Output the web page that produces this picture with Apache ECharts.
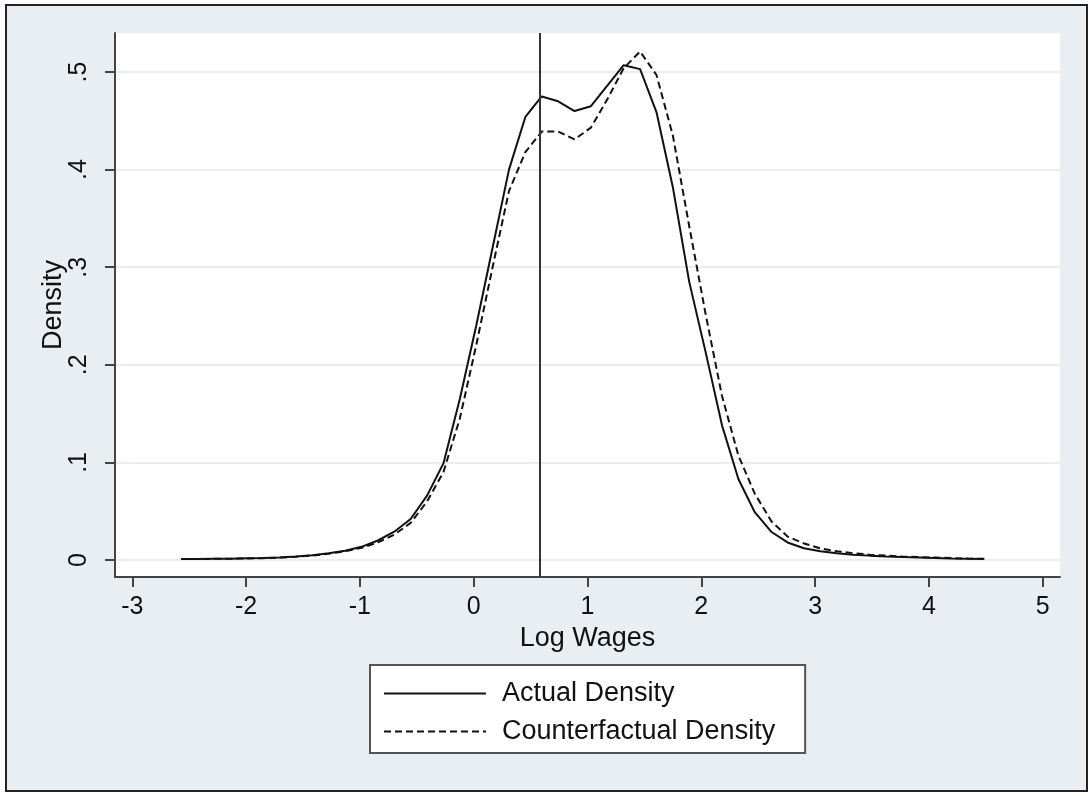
<!DOCTYPE html>
<html>
<head>
<meta charset="utf-8">
<script src="https://cdn.jsdelivr.net/npm/echarts@6/dist/echarts.min.js"></script>
<style>
  html, body { margin: 0; padding: 0; background: #ffffff; }
  #frame { position: absolute; left: 5px; top: 4px; width: 1079px; height: 784px; border: 2px solid #222; background: #e9eef3; }
  #chart { position: absolute; left: 0; top: 0; width: 1091px; height: 796px; }
</style>
</head>
<body>
<div id="frame"></div>
<div id="chart"></div>
<script>
// Evaluation grid of the kernel density (log wages)
const logWages = [-2.570,-2.426,-2.282,-2.138,-1.994,-1.850,-1.706,-1.562,-1.418,-1.274,
  -1.130,-0.986,-0.842,-0.698,-0.554,-0.410,-0.266,-0.122,0.022,0.166,
  0.310,0.454,0.598,0.742,0.886,1.030,1.174,1.318,1.462,1.606,
  1.750,1.894,2.038,2.182,2.326,2.470,2.614,2.758,2.902,3.046,
  3.190,3.334,3.478,3.622,3.766,3.910,4.054,4.198,4.342,4.486];

const actualDensity = [0.001,0.001,0.0012,0.0014,0.0017,0.002,0.0027,0.0036,0.005,0.007,
  0.0095,0.0135,0.020,0.029,0.042,0.066,0.099,0.165,0.240,0.320,
  0.400,0.454,0.475,0.470,0.460,0.465,0.486,0.507,0.503,0.459,
  0.382,0.285,0.213,0.138,0.083,0.049,0.029,0.018,0.012,0.009,
  0.007,0.0055,0.0045,0.0036,0.003,0.0025,0.002,0.0016,0.0013,0.001];

const counterfactualDensity = [0.001,0.001,0.0012,0.0014,0.0016,0.0019,0.0025,0.0033,0.0046,0.0065,
  0.009,0.0125,0.018,0.026,0.038,0.060,0.090,0.145,0.220,0.300,
  0.378,0.418,0.439,0.439,0.431,0.443,0.472,0.504,0.521,0.497,
  0.435,0.342,0.252,0.168,0.107,0.068,0.040,0.024,0.017,0.012,
  0.009,0.007,0.0055,0.0045,0.0036,0.003,0.0025,0.002,0.0015,0.0012];

const seriesNames = ['Actual Density', 'Counterfactual Density'];
const xTicks = [-3, -2, -1, 0, 1, 2, 3, 4, 5];
const yTicks = [0, 0.1, 0.2, 0.3, 0.4, 0.5];
const verticalLine = [0.583];
const xTitle = 'Log Wages';
const yTitle = 'Density';

const FONT = '"Liberation Sans", Arial, Helvetica, sans-serif';
const chart = echarts.init(document.getElementById('chart'), null, { renderer: 'canvas' });

function pairs(xs, ys) { return xs.map((x, i) => [x, ys[i]]); }

chart.setOption({
  animation: false,
  backgroundColor: 'transparent',
  textStyle: { fontFamily: FONT },
  grid: { left: 115, right: 31, top: 33, bottom: 219, show: true, backgroundColor: '#ffffff', borderWidth: 0 },
  xAxis: {
    type: 'value', min: -3.152, max: 5.152,
    name: xTitle, nameLocation: 'middle', nameGap: 44,
    nameTextStyle: { fontSize: 27, color: '#111', fontFamily: FONT },
    axisLine: { onZero: false, lineStyle: { color: '#444', width: 2 } },
    axisTick: { show: true, inside: false, length: 10, customValues: xTicks, lineStyle: { color: '#444', width: 2 } },
    axisLabel: { customValues: xTicks, fontSize: 25, color: '#111', margin: 18, fontFamily: FONT },
    splitLine: { show: false }
  },
  yAxis: {
    type: 'value', min: -0.0174, max: 0.540,
    name: yTitle, nameLocation: 'middle', nameGap: 48, nameRotate: 90, nameMoveOverlap: false,
    nameTextStyle: { fontSize: 27, color: '#111', fontFamily: FONT },
    axisLine: { onZero: false, lineStyle: { color: '#444', width: 2 } },
    axisTick: { show: true, inside: false, length: 10, customValues: yTicks, lineStyle: { color: '#444', width: 2 } },
    axisLabel: {
      customValues: yTicks, fontSize: 25, color: '#111', margin: 23, rotate: 90, fontFamily: FONT,
      formatter: v => (Math.abs(v) < 1e-9 ? '0' : String(+v.toFixed(1)).replace(/^0\./, '.'))
    },
    splitLine: { show: true, lineStyle: { color: '#e8eef3', width: 2 } }
  },
  legend: {
    orient: 'vertical', left: 370, top: 665,
    backgroundColor: '#ffffff', borderColor: '#555', borderWidth: 2,
    padding: [15, 30, 8, 13],
    itemWidth: 102, itemHeight: 14, itemGap: 11,
    itemStyle: { opacity: 0 },
    textStyle: { fontSize: 27, color: '#111', lineHeight: 26, fontFamily: FONT, padding: [0, 0, 0, 11] },
    data: seriesNames
  },
  series: [
    {
      name: seriesNames[0], type: 'line', data: pairs(logWages, actualDensity),
      symbol: 'none', showSymbol: false, smooth: false,
      lineStyle: { color: '#111', width: 2, type: 'solid' },
      itemStyle: { color: '#111' },
      markLine: {
        silent: true, symbol: 'none', label: { show: false },
        lineStyle: { color: '#333', width: 2, type: 'solid' },
        data: verticalLine.map(v => ({ xAxis: v }))
      },
      z: 3
    },
    {
      name: seriesNames[1], type: 'line', data: pairs(logWages, counterfactualDensity),
      symbol: 'none', showSymbol: false, smooth: false,
      lineStyle: { color: '#111', width: 2, type: [7, 4] },
      itemStyle: { color: '#111' },
      z: 2
    }
  ]
});
</script>
</body>
</html>
